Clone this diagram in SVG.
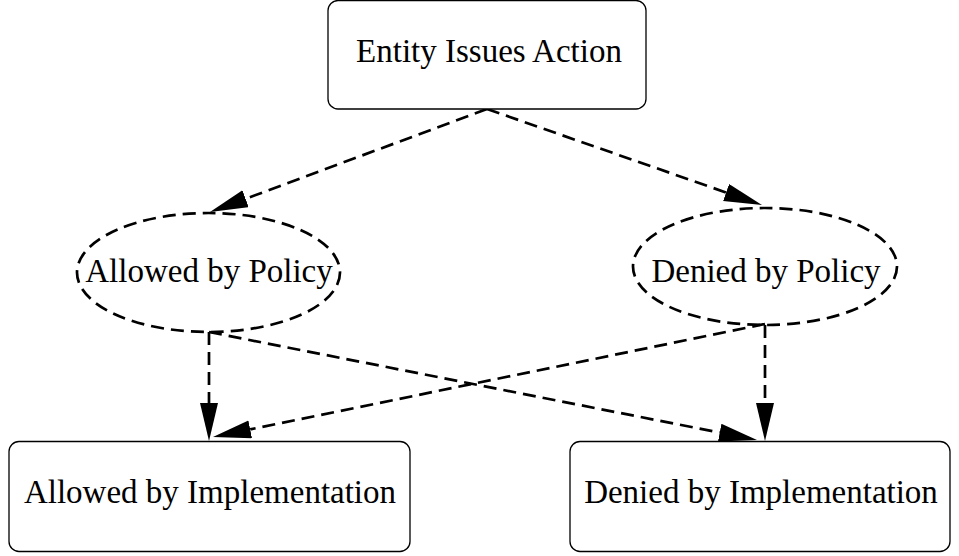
<svg xmlns="http://www.w3.org/2000/svg" width="959" height="556" viewBox="0 0 959 556">
<style>
.box{fill:#fff;stroke:#000;stroke-width:1.3}
.ell{fill:none;stroke:#000;stroke-width:2.7;stroke-dasharray:13,7}
.edge{fill:none;stroke:#000;stroke-width:2.7;stroke-dasharray:13,7}
.lbl{font-family:"Liberation Serif","Times New Roman",serif;font-size:33px;fill:#000;text-anchor:middle}
</style>
<defs>
<marker id="ah" markerUnits="userSpaceOnUse" markerWidth="40" markerHeight="20" refX="0" refY="9" orient="auto" viewBox="0 0 40 20">
<path d="M0,0 L38,9 L0,18 z" fill="#000"/>
</marker>
</defs>
<rect width="959" height="556" fill="#fff"/>
<g id="connectors">
<path class="edge" d="M487,109 L245.6,198.8" marker-end="url(#ah)"/>
<path class="edge" d="M487,109 L726.1,192.5" marker-end="url(#ah)"/>
<path class="edge" d="M209,332 L209,403" marker-end="url(#ah)"/>
<path class="edge" d="M765,325 L765,403" marker-end="url(#ah)"/>
<path class="edge" d="M209,332 L719.7,432.6" marker-end="url(#ah)"/>
<path class="edge" d="M765,324 L250.2,429.4" marker-end="url(#ah)"/>
</g>
<g id="entity">
<rect class="box" x="328" y="0.5" width="318" height="108.5" rx="10"/>
<text class="lbl" x="489" y="62">Entity Issues Action</text>
</g>
<g id="allowed-policy">
<ellipse class="ell" cx="208.5" cy="272.5" rx="131.5" ry="59.5"/>
<text class="lbl" x="209" y="282">Allowed by Policy</text>
</g>
<g id="denied-policy">
<ellipse class="ell" cx="765" cy="266.5" rx="132" ry="58.5"/>
<text class="lbl" x="766" y="282">Denied by Policy</text>
</g>
<g id="allowed-impl">
<rect class="box" x="9" y="441.5" width="401" height="110" rx="10"/>
<text class="lbl" x="210" y="503">Allowed by Implementation</text>
</g>
<g id="denied-impl">
<rect class="box" x="570" y="441.5" width="380" height="110" rx="10"/>
<text class="lbl" x="761" y="503">Denied by Implementation</text>
</g>
</svg>
